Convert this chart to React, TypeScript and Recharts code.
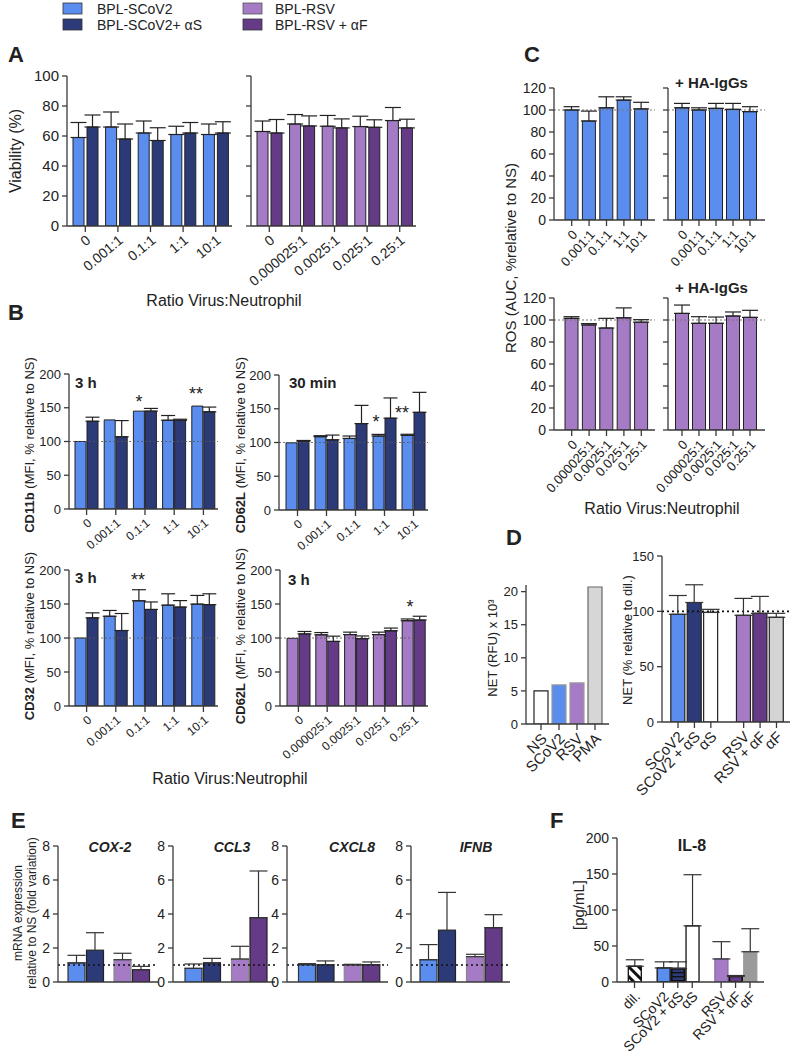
import React from "react";
import { BarChart, Bar, XAxis, YAxis, ErrorBar, ReferenceLine, Cell } from "recharts";

const FONT = "Arial, 'Liberation Sans', Helvetica, sans-serif";
const AXIS = "#3a3a3a";
const INK = "#222";
const C_SC = "#5b8def";
const C_SC_AB = "#2c3a78";
const C_RSV = "#a67bc5";
const C_RSV_AB = "#653b88";

// categories
const ratioSCoV2 = ["0", "0.001:1", "0.1:1", "1:1", "10:1"];
const ratioRSV = ["0", "0.000025:1", "0.0025:1", "0.025:1", "0.25:1"];

// A - viability (%)
const viabSC = [59, 66, 62, 61, 61];
const viabSCSd = [10, 10, 8, 5.5, 7];
const viabSCAb = [66, 58, 57, 62, 62];
const viabSCAbSd = [8, 10, 8.5, 7, 7.5];
const viabRSV = [63, 68, 66.5, 66.3, 70.3];
const viabRSVSd = [7, 6.3, 7.2, 6.9, 8.7];
const viabRSVAb = [62, 66.7, 65.4, 65.8, 65.4];
const viabRSVAbSd = [9, 6.7, 6, 5, 5.8];

// B - MFI % relative to NS
const cd11bSC = [100, 132, 145, 131.5, 152.5];
const cd11bSCSd = [0, 0, 0, 7, 0];
const cd11bSCAb = [130, 107, 145, 131.5, 144];
const cd11bSCAbSd = [6, 24, 4, 1.5, 7];
const cd62lSC = [99.5, 108.6, 106, 109.6, 110.6];
const cd62lSCSd = [0, 1.5, 3.6, 2.4, 1.6];
const cd62lSCAb = [102, 104, 128, 136, 144.7];
const cd62lSCAbSd = [1, 7, 27, 30, 29.6];
const cd32SC = [100, 132, 154.7, 148.3, 149.8];
const cd32SCSd = [0, 8.5, 16.3, 16.7, 12.8];
const cd32SCAb = [129.6, 111, 142, 145.5, 149];
const cd32SCAbSd = [7.4, 25, 11, 9.5, 16];
const cd62lRSV = [99.5, 104.7, 105, 105, 125.4];
const cd62lRSVSd = [0, 3.3, 3.6, 3.6, 2.6];
const cd62lRSVAb = [106, 95, 99, 110.6, 126.4];
const cd62lRSVAbSd = [3.6, 7.7, 4, 4, 5.6];

// C - ROS
const rosSC = [100, 90, 102, 109, 101];
const rosSCSd = [3, 9, 10, 3, 6];
const rosSCHa = [102, 100, 101.5, 100.6, 98.5];
const rosSCHaSd = [4, 2, 4.5, 5.4, 4.5];
const rosRSV = [101.5, 95.5, 92.7, 102, 98];
const rosRSVSd = [1.5, 1.2, 8.8, 9, 2.3];
const rosRSVHa = [106, 97, 97, 103.6, 102.4];
const rosRSVHaSd = [7.6, 6, 5.7, 3.7, 6.4];

// D - NET
const netCats = ["NS", "SCoV2", "RSV", "PMA"];
const netRfu = [5, 5.9, 6.2, 20.7];
const netRfuColors = ["#ffffff", C_SC, C_RSV, "#d6d6d6"];
const netRelCats = ["SCoV2", "SCoV2 + αS", "αS", "", "RSV", "RSV + αF", "αF"];
const netRel = [97.3, 108, 99, null, 96.4, 98.2, 94.6];
const netRelSd = [17, 16, 2.8, null, 15.3, 15.3, 3.6];
const netRelColors = [C_SC, C_SC_AB, "#ffffff", "#ffffff", C_RSV, C_RSV_AB, "#d4d4d4"];

// E - mRNA fold variation (virus / virus + antibody, for SCoV2 and RSV)
const virusGroups = ["SCoV2", "RSV"];
const cox2Virus = [1.12, 1.31];
const cox2VirusSd = [0.45, 0.38];
const cox2Ab = [1.86, 0.73];
const cox2AbSd = [1.04, 0.19];
const ccl3Virus = [0.8, 1.35];
const ccl3VirusSd = [0.26, 0.75];
const ccl3Ab = [1.12, 3.78];
const ccl3AbSd = [0.27, 2.75];
const cxcl8Virus = [1.02, 1.0];
const cxcl8VirusSd = [0.06, 0.04];
const cxcl8Ab = [1.02, 1.02];
const cxcl8AbSd = [0.22, 0.16];
const ifnbVirus = [1.31, 1.49];
const ifnbVirusSd = [0.89, 0.14];
const ifnbAb = [3.04, 3.2];
const ifnbAbSd = [2.23, 0.76];

// F - IL-8 pg/mL
const il8Cats = ["dil.", "", "SCoV2", "SCoV2 + αS", "αS", "", "RSV", "RSV + αF", "αF"];
const il8 = [21.9, null, 19.5, 18.6, 78, null, 32, 8, 42];
const il8Sd = [9, null, 8.5, 9.4, 71, null, 24, 1, 32];
const il8Fills = ["url(#hatch)", "#fff", C_SC, "url(#navyStripes)", "#ffffff", "#fff", C_RSV, C_RSV_AB, "#9a9a9a"];

const err = (sd: number | null | undefined) => (sd ? [0, sd] : null);

function pairRows(cats: string[], a: number[], aSd: number[], b: number[], bSd: number[]) {
  return cats.map((cat, i) => ({ cat, a: a[i], aErr: err(aSd[i]), b: b[i], bErr: err(bSd[i]) }));
}

function singleRows(cats: string[], v: (number | null)[], sd?: (number | null)[]) {
  return cats.map((cat, i) => ({ cat, a: v[i], aErr: sd ? err(sd[i]) : null }));
}

function slantTick(fontSize: number, angle: number, mark = true) {
  return (props: any) => {
    const { x, y, payload } = props;
    const label = String(payload?.value ?? "");
    if (!label) return <g />;
    const ax = x + 3;
    const ay = y + 12;
    return (
      <g>
        {mark && <line x1={x} y1={y} x2={x} y2={y + 6} stroke={AXIS} strokeWidth={1.3} />}
        <text
          x={ax}
          y={ay}
          dy="0.35em"
          textAnchor="end"
          transform={`rotate(${angle} ${ax} ${ay})`}
          fontSize={fontSize}
          fontFamily={FONT}
          fill={INK}
        >
          {label}
        </text>
      </g>
    );
  };
}

const noTick = () => <g />;

const PL = 50;
const PR = 12;
const PT = 10;
const PB = 95;

type MiniProps = {
  x0: number;
  y0: number;
  x1: number;
  y1: number;
  data: object[];
  domain: [number, number];
  yTicks: number[];
  yFont?: number;
  xTick: (p: any) => React.ReactElement;
  xPad?: { left: number; right: number };
  barSize: number;
  barGap?: number;
  children?: React.ReactNode;
};

// x0,y0,x1,y1 = plot area on the page
function Mini({ x0, y0, x1, y1, data, domain, yTicks, yFont = 0, xTick, xPad = { left: 0, right: 0 }, barSize, barGap = 2, children }: MiniProps) {
  const w = x1 - x0 + PL + PR;
  const h = y1 - y0 + PT + PB;
  return (
    <div style={{ position: "absolute", left: x0 - PL, top: y0 - PT, width: w, height: h }}>
      <BarChart width={w} height={h} data={data} margin={{ top: PT, right: PR, bottom: 0, left: 0 }} barSize={barSize} barGap={barGap}>
        <XAxis
          dataKey="cat"
          height={PB}
          interval={0}
          padding={xPad}
          tickLine={false}
          tickSize={0}
          tickMargin={0}
          axisLine={{ stroke: AXIS, strokeWidth: 1.3 }}
          tick={xTick}
        />
        <YAxis
          type="number"
          width={PL}
          domain={domain}
          ticks={yTicks}
          interval={0}
          allowDataOverflow
          axisLine={{ stroke: AXIS, strokeWidth: 1.3 }}
          tickLine={{ stroke: AXIS, strokeWidth: 1.3 }}
          tickSize={5}
          tickMargin={3}
          tick={yFont ? { fontSize: yFont, fill: INK, fontFamily: FONT } : noTick}
        />
        {children}
      </BarChart>
    </div>
  );
}

function pairBars(light: string, dark: string, cap = 7) {
  return [
    <Bar key="a" dataKey="a" fill={light} stroke={INK} strokeWidth={1} isAnimationActive={false}>
      <ErrorBar dataKey="aErr" direction="y" width={cap} stroke={INK} strokeWidth={1.2} isAnimationActive={false} />
    </Bar>,
    <Bar key="b" dataKey="b" fill={dark} stroke={INK} strokeWidth={1} isAnimationActive={false}>
      <ErrorBar dataKey="bErr" direction="y" width={cap} stroke={INK} strokeWidth={1.2} isAnimationActive={false} />
    </Bar>,
  ];
}

function geneBars() {
  return [
    <Bar key="a" dataKey="a" strokeWidth={1.2} isAnimationActive={false}>
      <Cell fill={C_SC} stroke="#333" />
      <Cell fill={C_RSV} stroke="#888" />
      <ErrorBar dataKey="aErr" direction="y" width={9} stroke="#333" strokeWidth={1.2} isAnimationActive={false} />
    </Bar>,
    <Bar key="b" dataKey="b" strokeWidth={1.2} isAnimationActive={false}>
      <Cell fill={C_SC_AB} stroke="#222" />
      <Cell fill={C_RSV_AB} stroke="#222" />
      <ErrorBar dataKey="bErr" direction="y" width={9} stroke="#333" strokeWidth={1.2} isAnimationActive={false} />
    </Bar>,
  ];
}

function singleBar(fill: string) {
  return (
    <Bar key="a" dataKey="a" fill={fill} stroke={INK} strokeWidth={1} isAnimationActive={false}>
      <ErrorBar dataKey="aErr" direction="y" width={8} stroke={INK} strokeWidth={1.2} isAnimationActive={false} />
    </Bar>
  );
}

const refB = <ReferenceLine key="ref" y={100} stroke="#555" strokeWidth={0.8} strokeDasharray="2 2" />;
const refC = <ReferenceLine key="ref" y={100} stroke="#777" strokeWidth={1} strokeDasharray="2 2" />;
const refE = <ReferenceLine key="ref" y={1} stroke="#111" strokeWidth={1.6} strokeDasharray="2 3" />;

const ticksA = [0, 20, 40, 60, 80, 100];
const ticksB = [0, 50, 100, 150, 200];
const ticksC = [0, 20, 40, 60, 80, 100, 120];
const ticksE = [0, 2, 4, 6, 8];

function YLabel({ x, y, size = 13, children }: { x: number; y: number; size?: number; children: React.ReactNode }) {
  return (
    <text x={x} y={y} transform={`rotate(-90 ${x} ${y})`} textAnchor="middle" fontSize={size} fontFamily={FONT} fill={INK}>
      {children}
    </text>
  );
}

function T({ x, y, size = 14, bold = false, italic = false, anchor = "start", children }: any) {
  return (
    <text x={x} y={y} fontSize={size} fontFamily={FONT} fontWeight={bold ? "bold" : "normal"} fontStyle={italic ? "italic" : "normal"} textAnchor={anchor} fill={INK}>
      {children}
    </text>
  );
}

export default function App() {
  const geneCharts = [
    { name: "COX-2", x0: 58, x1: 158, pad: 5, v: cox2Virus, vs: cox2VirusSd, b: cox2Ab, bs: cox2AbSd, tx: 110 },
    { name: "CCL3", x0: 173, x1: 275, pad: 6, v: ccl3Virus, vs: ccl3VirusSd, b: ccl3Ab, bs: ccl3AbSd, tx: 232 },
    { name: "CXCL8", x0: 287, x1: 388, pad: 6.5, v: cxcl8Virus, vs: cxcl8VirusSd, b: cxcl8Ab, bs: cxcl8AbSd, tx: 352 },
    { name: "IFNB", x0: 411, x1: 510, pad: 3, v: ifnbVirus, vs: ifnbVirusSd, b: ifnbAb, bs: ifnbAbSd, tx: 476 },
  ];

  return (
    <div style={{ position: "absolute", left: 0, top: 0, width: 792, height: 1056, background: "#fff", fontFamily: FONT, overflow: "hidden" }}>
      <svg width={0} height={0} style={{ position: "absolute" }}>
        <defs>
          <pattern id="hatch" width={7} height={7} patternUnits="userSpaceOnUse" patternTransform="rotate(-45)">
            <rect width={7} height={7} fill="#fff" />
            <rect width={3} height={7} fill="#111" />
          </pattern>
          <pattern id="navyStripes" width={4} height={4} patternUnits="userSpaceOnUse">
            <rect width={4} height={4} fill={C_SC_AB} />
            <rect width={4} height={1.4} fill="#111" />
          </pattern>
        </defs>
      </svg>

      {/* A */}
      <Mini x0={67} y0={76} x1={232} y1={226} data={pairRows(ratioSCoV2, viabSC, viabSCSd, viabSCAb, viabSCAbSd)} domain={[0, 100]} yTicks={ticksA} yFont={15} xTick={slantTick(14, -40)} xPad={{ left: 2, right: 0 }} barSize={11} barGap={3}>
        {pairBars(C_SC, C_SC_AB, 8)}
      </Mini>
      <Mini x0={251} y0={76} x1={416} y1={226} data={pairRows(ratioRSV, viabRSV, viabRSVSd, viabRSVAb, viabRSVAbSd)} domain={[0, 100]} yTicks={ticksA} xTick={slantTick(14, -40)} xPad={{ left: 2, right: 0 }} barSize={11} barGap={3}>
        {pairBars(C_RSV, C_RSV_AB, 8)}
      </Mini>

      {/* B */}
      <Mini x0={69} y0={374} x1={218} y1={509} data={pairRows(ratioSCoV2, cd11bSC, cd11bSCSd, cd11bSCAb, cd11bSCAbSd)} domain={[0, 200]} yTicks={ticksB} yFont={13} xTick={slantTick(12, -40)} xPad={{ left: 3, right: 0 }} barSize={11} barGap={1}>
        {[refB, ...pairBars(C_SC, C_SC_AB, 7)]}
      </Mini>
      <Mini x0={279} y0={375} x1={428} y1={510} data={pairRows(ratioSCoV2, cd62lSC, cd62lSCSd, cd62lSCAb, cd62lSCAbSd)} domain={[0, 200]} yTicks={ticksB} yFont={13} xTick={slantTick(12, -40)} xPad={{ left: 4, right: 0 }} barSize={11} barGap={1}>
        {[refB, ...pairBars(C_SC, C_SC_AB, 7)]}
      </Mini>
      <Mini x0={69} y0={570} x1={218} y1={706} data={pairRows(ratioSCoV2, cd32SC, cd32SCSd, cd32SCAb, cd32SCAbSd)} domain={[0, 200]} yTicks={ticksB} yFont={13} xTick={slantTick(12, -40)} xPad={{ left: 3, right: 0 }} barSize={11} barGap={1}>
        {[refB, ...pairBars(C_SC, C_SC_AB, 7)]}
      </Mini>
      <Mini x0={280} y0={570} x1={428} y1={706} data={pairRows(ratioRSV, cd62lRSV, cd62lRSVSd, cd62lRSVAb, cd62lRSVAbSd)} domain={[0, 200]} yTicks={ticksB} yFont={13} xTick={slantTick(12, -40)} xPad={{ left: 4, right: 0 }} barSize={11} barGap={1}>
        {[refB, ...pairBars(C_RSV, C_RSV_AB, 7)]}
      </Mini>

      {/* C */}
      <Mini x0={554} y0={88} x1={655} y1={220} data={singleRows(ratioSCoV2, rosSC, rosSCSd)} domain={[0, 120]} yTicks={ticksC} yFont={14} xTick={slantTick(13, -48)} xPad={{ left: 9, right: 5 }} barSize={13}>
        {[refC, singleBar(C_SC)]}
      </Mini>
      <Mini x0={668} y0={88} x1={765} y1={220} data={singleRows(ratioSCoV2, rosSCHa, rosSCHaSd)} domain={[0, 120]} yTicks={ticksC} xTick={slantTick(13, -48)} xPad={{ left: 5.5, right: 6.5 }} barSize={13}>
        {[refC, singleBar(C_SC)]}
      </Mini>
      <Mini x0={554} y0={298} x1={655} y1={430} data={singleRows(ratioRSV, rosRSV, rosRSVSd)} domain={[0, 120]} yTicks={ticksC} yFont={14} xTick={slantTick(13, -48)} xPad={{ left: 9, right: 5 }} barSize={13}>
        {[refC, singleBar(C_RSV)]}
      </Mini>
      <Mini x0={668} y0={298} x1={765} y1={430} data={singleRows(ratioRSV, rosRSVHa, rosRSVHaSd)} domain={[0, 120]} yTicks={ticksC} xTick={slantTick(13, -48)} xPad={{ left: 5.5, right: 6.5 }} barSize={13}>
        {[refC, singleBar(C_RSV)]}
      </Mini>

      {/* D */}
      <Mini x0={526} y0={585} x1={609} y1={724} data={singleRows(netCats, netRfu)} domain={[0, 21]} yTicks={[0, 5, 10, 15, 20]} yFont={13} xTick={slantTick(15, -45)} xPad={{ left: 6, right: 5 }} barSize={14}>
        <Bar dataKey="a" strokeWidth={1.2} isAnimationActive={false}>
          {netCats.map((c, i) => (
            <Cell key={c} fill={netRfuColors[i]} stroke={i === 0 ? "#222" : i === 3 ? "#666" : "#999"} />
          ))}
        </Bar>
      </Mini>
      <Mini x0={662} y0={556} x1={790} y1={722} data={singleRows(netRelCats, netRel, netRelSd)} domain={[0, 150]} yTicks={[0, 50, 100, 150]} yFont={13} xTick={slantTick(15, -45)} xPad={{ left: 7.8, right: 5.3 }} barSize={14}>
        <ReferenceLine y={100} stroke="#111" strokeWidth={1.8} strokeDasharray="2 3" />
        <Bar dataKey="a" stroke="#222" strokeWidth={1.2} isAnimationActive={false}>
          {netRelCats.map((c, i) => (
            <Cell key={i} fill={netRelColors[i]} />
          ))}
          <ErrorBar dataKey="aErr" direction="y" width={9} stroke="#333" strokeWidth={1.2} isAnimationActive={false} />
        </Bar>
      </Mini>

      {/* E */}
      {geneCharts.map((g) => (
        <Mini key={g.name} x0={g.x0} y0={846} x1={g.x1} y1={982} data={pairRows(virusGroups, g.v, g.vs, g.b, g.bs)} domain={[0, 8]} yTicks={ticksE} yFont={14} xTick={noTick} xPad={{ left: g.pad, right: 3 }} barSize={17} barGap={1.5}>
          {[refE, ...geneBars()]}
        </Mini>
      ))}

      {/* F */}
      <Mini x0={617} y0={838} x1={764} y1={982} data={singleRows(il8Cats, il8, il8Sd)} domain={[0, 200]} yTicks={[0, 50, 100, 150, 200]} yFont={14} xTick={slantTick(14, -45)} xPad={{ left: 10.3, right: 6.8 }} barSize={13}>
        <Bar dataKey="a" stroke="#222" strokeWidth={1.3} isAnimationActive={false}>
          {il8Cats.map((c, i) => (
            <Cell key={i} fill={il8Fills[i]} stroke={i === 8 ? "#9a9a9a" : i === 6 ? "#8a6aa8" : "#111"} strokeWidth={i === 7 || i === 3 ? 2 : 1.3} />
          ))}
          <ErrorBar dataKey="aErr" direction="y" width={9} stroke="#333" strokeWidth={1.2} isAnimationActive={false} />
        </Bar>
      </Mini>

      {/* text layer */}
      <svg width={792} height={1056} style={{ position: "absolute", left: 0, top: 0, pointerEvents: "none" }}>
        {/* legend */}
        <rect x={63} y={3} width={19} height={11} fill={C_SC} stroke="#333" strokeWidth={0.8} />
        <rect x={63} y={19} width={19} height={11} fill={C_SC_AB} stroke="#333" strokeWidth={0.8} />
        <rect x={243} y={3} width={19} height={11} fill={C_RSV} stroke="#555" strokeWidth={0.8} />
        <rect x={243} y={19} width={19} height={11} fill={C_RSV_AB} stroke="#333" strokeWidth={0.8} />
        <T x={97} y={14}>BPL-SCoV2</T>
        <T x={97} y={30}>BPL-SCoV2+ αS</T>
        <T x={275} y={14}>BPL-RSV</T>
        <T x={275} y={30}>BPL-RSV + αF</T>

        {/* panel letters */}
        <T x={8} y={62} size={22} bold>A</T>
        <T x={8} y={320} size={22} bold>B</T>
        <T x={524} y={62} size={22} bold>C</T>
        <T x={506} y={545} size={22} bold>D</T>
        <T x={11} y={828} size={22} bold>E</T>
        <T x={550} y={828} size={22} bold>F</T>

        {/* A */}
        <YLabel x={21} y={151} size={16}>Viability (%)</YLabel>
        <T x={224} y={306} size={16} anchor="middle">Ratio Virus:Neutrophil</T>

        {/* B */}
        <YLabel x={34} y={445}>
          <tspan fontWeight="bold">CD11b</tspan> (MFI, % relative to NS)
        </YLabel>
        <YLabel x={245} y={445}>
          <tspan fontWeight="bold">CD62L</tspan> (MFI, % relative to NS)
        </YLabel>
        <YLabel x={34} y={636}>
          <tspan fontWeight="bold">CD32</tspan> (MFI, % relative to NS)
        </YLabel>
        <YLabel x={245} y={636}>
          <tspan fontWeight="bold">CD62L</tspan> (MFI, % relative to NS)
        </YLabel>
        <T x={75} y={388} size={15} bold>3 h</T>
        <T x={289} y={388} size={15} bold>30 min</T>
        <T x={75} y={583} size={15} bold>3 h</T>
        <T x={288} y={585} size={15} bold>3 h</T>
        <T x={139} y={408} size={18} anchor="middle">*</T>
        <T x={196} y={400} size={18} anchor="middle">**</T>
        <T x={376} y={428} size={18} anchor="middle">*</T>
        <T x={402} y={419} size={18} anchor="middle">**</T>
        <T x={138} y={586} size={18} anchor="middle">**</T>
        <T x={410} y={613} size={18} anchor="middle">*</T>
        <T x={230} y={784} size={16} anchor="middle">Ratio Virus:Neutrophil</T>

        {/* C */}
        <YLabel x={516} y={258} size={15}>ROS  (AUC, %relative to NS)</YLabel>
        <T x={675} y={88} size={15} bold>+ HA-IgGs</T>
        <T x={675} y={293} size={15} bold>+ HA-IgGs</T>
        <T x={662} y={514} size={16} anchor="middle">Ratio Virus:Neutrophil</T>

        {/* D */}
        <YLabel x={497} y={648}>NET (RFU) x 10³</YLabel>
        <YLabel x={632} y={640}>NET (% relative to dil.)</YLabel>

        {/* E */}
        <YLabel x={22} y={913} size={12}>mRNA expression</YLabel>
        <YLabel x={36} y={913} size={12}>relative to NS (fold variation)</YLabel>
        {geneCharts.map((g) => (
          <T key={g.name} x={g.tx} y={852} size={14} bold italic anchor="middle">{g.name}</T>
        ))}

        {/* F */}
        <T x={692} y={851} size={16} bold anchor="middle">IL-8</T>
        <YLabel x={584} y={905} size={15}>[pg/mL]</YLabel>
      </svg>
    </div>
  );
}
